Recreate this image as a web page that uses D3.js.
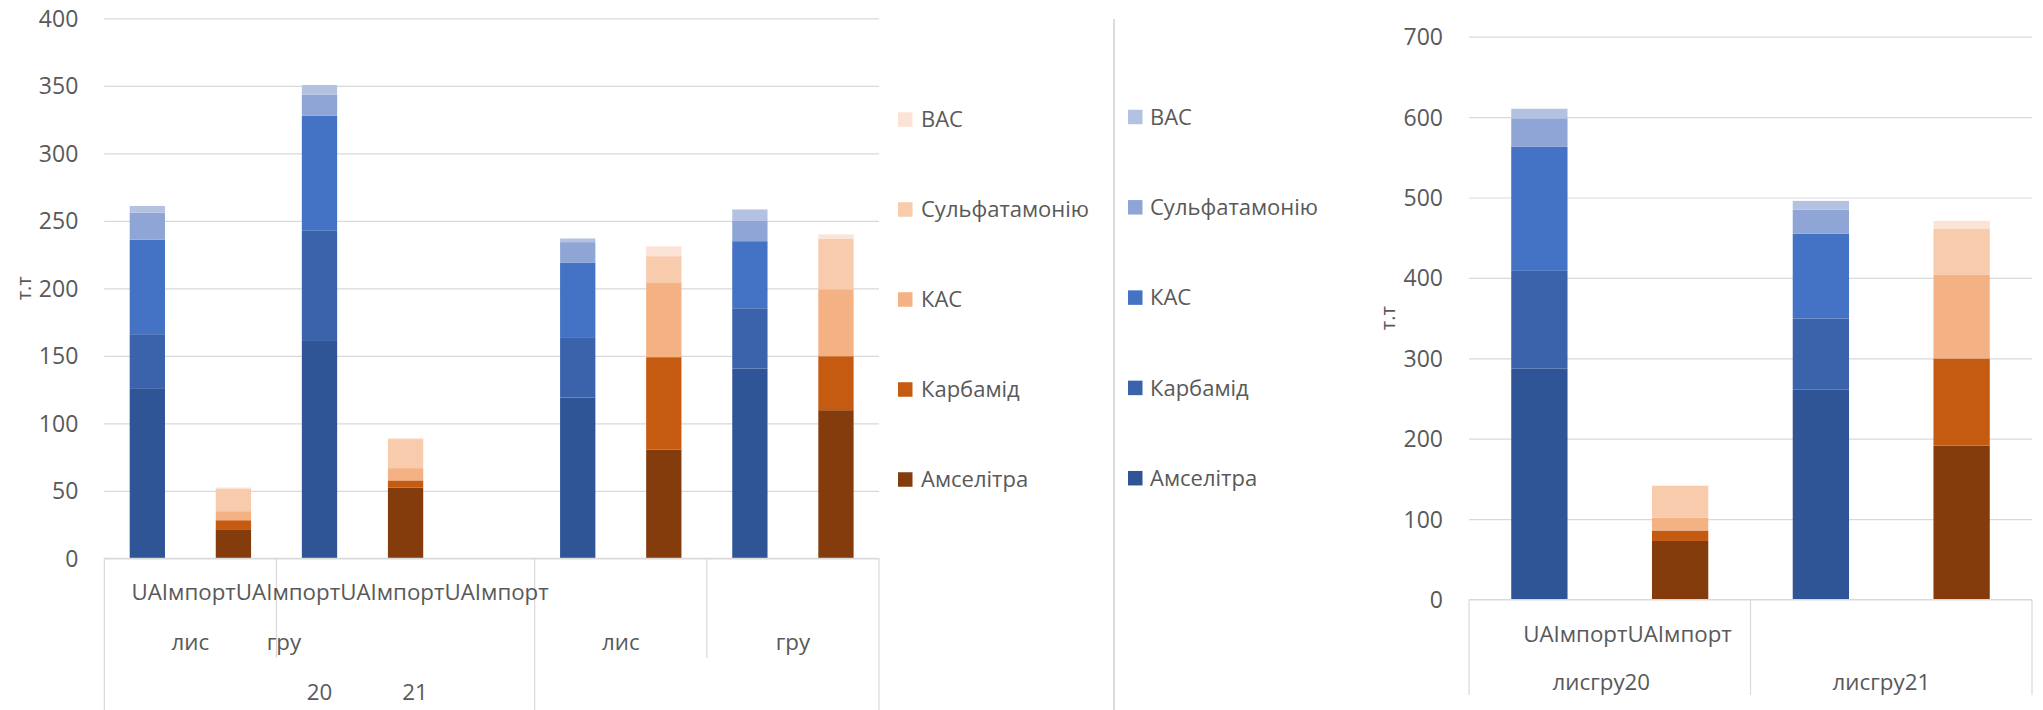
<!DOCTYPE html>
<html><head><meta charset="utf-8">
<script src="https://cdn.jsdelivr.net/npm/d3@7"></script>
<style>
body{margin:0;background:#fff;}
svg{display:block;}
text{font-family:"Open Sans",sans-serif;fill:#595959;}
</style>
</head><body>
<svg id="c" width="2043" height="710"></svg>
<script>
// ---------- DATA ----------
const seriesNames = ["Амселітра","Карбамід","КАС","Сульфатамонію","ВАС"];   // bottom -> top
const legendNames = ["ВАС","Сульфатамонію","КАС","Карбамід","Амселітра"];   // legend top -> bottom

// left chart: 9 category slots (slot 5 empty)
const leftSlots  = ["UA-лис-20","Імпорт-лис-20","UA-гру-20","Імпорт-гру-20","-","UA-лис-21","Імпорт-лис-21","UA-гру-21","Імпорт-гру-21"];
const leftGroup  = ["UA","Імпорт","UA","Імпорт","","UA","Імпорт","UA","Імпорт"];
const leftAmselitra = [126, 21, 161, 52.3, 0, 119.1, 80.5, 140.6, 109.7];
const leftKarbamid  = [40, 7.2, 81.6, 5.4, 0, 44.7, 68.5, 44.6, 40];
const leftKAS       = [70, 6.7, 85.2, 9.1, 0, 55.3, 55.4, 49.7, 49.6];
const leftSulf      = [20, 16.8, 15.5, 21.5, 0, 15.1, 19.4, 15.4, 37.3];
const leftVAS       = [5, 0.7, 7.3, 0.7, 0, 2.7, 7.3, 8.1, 3.3];
const leftTicks = [0,50,100,150,200,250,300,350,400];

// right chart: 4 category slots
const rightSlots = ["UA-20","Імпорт-20","UA-21","Імпорт-21"];
const rightGroup = ["UA","Імпорт","UA","Імпорт"];
const rightAmselitra = [287.4, 72.8, 260.9, 191.4];
const rightKarbamid  = [121.4, 13, 88.6, 108.4];
const rightKAS       = [154.2, 15.8, 105.6, 104.5];
const rightSulf      = [35.5, 39.6, 29.9, 56.5];
const rightVAS       = [11.9, 0.6, 10.8, 10.1];
const rightTicks = [0,100,200,300,400,500,600,700];

// axis category labels
const leftRow1  = ["UA","Імпорт","UA","Імпорт","UA","Імпорт","UA","Імпорт"];
const leftRow2  = ["лис","гру","лис","гру"];
const leftRow3  = ["20","21"];
const rightRow1 = ["UA","Імпорт","UA","Імпорт"];
const rightRow2 = ["лисгру20","лисгру21"];
const yTitle = "т.т";

// colours
const blueColors   = {"Амселітра":"#2F5597","Карбамід":"#3A63AC","КАС":"#4472C4","Сульфатамонію":"#8FA5D5","ВАС":"#B4C2E2"};
const orangeColors = {"Амселітра":"#843C0C","Карбамід":"#C55A11","КАС":"#F4B183","Сульфатамонію":"#F8CBAD","ВАС":"#FBE3D5"};

// ---------- DRAW ----------
const svg = d3.select("#c");
const GRID = "#D9D9D9";

function rows(slots, group, a, k, ks, s, v){
  return slots.map((id,i)=>({id, group:group[i], "Амселітра":a[i], "Карбамід":k[i], "КАС":ks[i], "Сульфатамонію":s[i], "ВАС":v[i]}));
}

function drawChart(cfg){
  const g = svg.append("g");
  const x = d3.scaleBand().domain(cfg.slots).range([cfg.x0, cfg.x1]).paddingInner(cfg.pi).paddingOuter(cfg.pi/2);
  const y = d3.scaleLinear().domain([0, d3.max(cfg.ticks)]).range([cfg.y0, cfg.y1]);
  const ax = g.append("g").attr("transform",`translate(${cfg.x0},0)`)
    .call(d3.axisLeft(y).tickValues(cfg.ticks).tickSize(-(cfg.x1-cfg.x0)).tickPadding(26).tickFormat(d3.format("d")));
  ax.select(".domain").remove();
  ax.selectAll(".tick line").attr("stroke",GRID).attr("stroke-width",1.2);
  ax.selectAll(".tick text").attr("font-size",null).style("font-size","23px").attr("dy","0.35em").style("fill","#595959");
  ax.attr("font-family",null).attr("font-size",null);
  const stack = d3.stack().keys(seriesNames);
  const layers = stack(cfg.data);
  layers.forEach(layer=>{
    g.append("g").selectAll("rect").data(layer.filter(d=>d.data.group!=="" && d[1]>d[0])).join("rect")
      .attr("x", d=>x(d.data.id)).attr("width", x.bandwidth())
      .attr("y", d=>y(d[1])).attr("height", d=>y(d[0])-y(d[1]))
      .attr("fill", d=> (d.data.group==="UA"?blueColors:orangeColors)[layer.key]);
  });
  g.append("text").attr("transform",`translate(${cfg.titleX},${(cfg.y0+cfg.y1)/2}) rotate(-90)`)
    .attr("text-anchor","middle").attr("dy","0.35em").style("font-size","20px").text(yTitle);
  return {x,y,g};
}

const L = drawChart({slots:leftSlots, x0:104.3, x1:879, y0:558.3, y1:18.3, pi:0.59, ticks:leftTicks, titleX:24,
  data: rows(leftSlots,leftGroup,leftAmselitra,leftKarbamid,leftKAS,leftSulf,leftVAS)});
const R = drawChart({slots:rightSlots, x0:1469, x1:2032, y0:599.5, y1:36.7, pi:0.6, ticks:rightTicks, titleX:1388,
  data: rows(rightSlots,rightGroup,rightAmselitra,rightKarbamid,rightKAS,rightSulf,rightVAS)});

function vline(x,y0,y1){ svg.append("line").attr("x1",x).attr("x2",x).attr("y1",y0).attr("y2",y1).attr("stroke",GRID).attr("stroke-width",1.2); }
function hline(x0,x1,y){ svg.append("line").attr("x1",x0).attr("x2",x1).attr("y1",y).attr("y2",y).attr("stroke",GRID).attr("stroke-width",1.2); }
function label(t,x,y){ svg.append("text").attr("x",x).attr("y",y).attr("text-anchor","middle").style("font-size","22.3px").text(t); }

// left category axis
const lstep = L.x.step(), lx0 = 104.3;
const slotX = s => lx0 + s*lstep;
hline(slotX(0), slotX(9), 558.3);
[[0,710],[2,658],[5,710],[7,658],[9,710]].forEach(([s,b])=>vline(slotX(s),558.3,b));
label(leftRow1.join(""), slotX(2.74), 600);
[[1,0],[2.087,1],[6,2],[8,3]].forEach(([s,i])=>label(leftRow2[i], slotX(s), 650));
[[2.5,0],[3.61,1]].forEach(([s,i])=>label(leftRow3[i], slotX(s), 700));

// right category axis
const rstep = R.x.step(), rx0 = 1469;
const rslotX = s => rx0 + s*rstep;
hline(rslotX(0), rslotX(4), 599.5);
[0,2,4].forEach(s=>vline(rslotX(s),599.5,695));
label(rightRow1.join(""), rslotX(1.126), 641.7);
label(rightRow2[0], rslotX(0.94), 690);
label(rightRow2[1], rslotX(2.93), 690);

// separator
svg.append("line").attr("x1",1114).attr("x2",1114).attr("y1",19).attr("y2",710).attr("stroke","#C8C8C8").attr("stroke-width",1.3);

// legends
function legend(colors, sx, tx, cy0, step){
  legendNames.forEach((n,i)=>{
    const cy = cy0 + i*step;
    svg.append("rect").attr("x",sx).attr("y",cy-7.25).attr("width",14.5).attr("height",14.5).attr("fill",colors[n]);
    svg.append("text").attr("x",tx).attr("y",cy).attr("dy","0.35em").style("font-size","22px").text(n);
  });
}
legend(orangeColors, 898, 921, 119.5, 90);
legend(blueColors, 1128, 1150, 117, 90.3);
</script>
</body></html>
